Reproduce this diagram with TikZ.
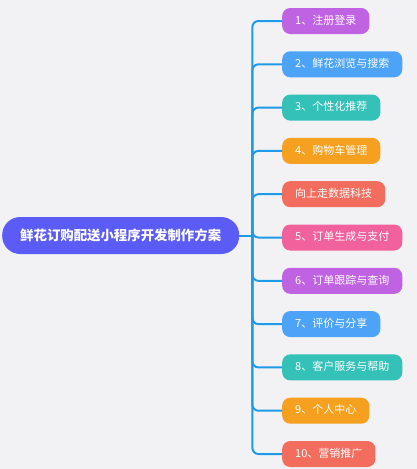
\documentclass[tikz,border=0pt]{standalone}
\usepackage{fontspec}
\usetikzlibrary{positioning}
\newfontfamily\cjk{Noto Sans CJK SC}

\definecolor{bgc}{HTML}{F2F2F5}
\definecolor{rootc}{HTML}{5B5BF6}
\definecolor{linec}{HTML}{1E9BE8}
\definecolor{purplec}{HTML}{BF63E3}
\definecolor{bluec}{HTML}{4DA3F7}
\definecolor{tealc}{HTML}{33C1B8}
\definecolor{orangec}{HTML}{F5A01E}
\definecolor{redc}{HTML}{F26D5D}
\definecolor{pinkc}{HTML}{F1619B}

\tikzset{
  rootbox/.style={rounded corners=18pt, fill=rootc, text=white,
    minimum width=237pt, minimum height=37pt, inner sep=0pt,
    font=\cjk\bfseries\fontsize{13.4pt}{14pt}\selectfont},
  leaf/.style={rounded corners=8pt, text=white, minimum height=26pt,
    inner xsep=13pt, inner ysep=0pt, text height=8.5pt, text depth=2pt,
    font=\cjk\fontsize{11pt}{12pt}\selectfont},
  branch/.style={draw=linec, line width=2pt, rounded corners=6pt}
}

\begin{document}
\begin{tikzpicture}
  \useasboundingbox[fill=bgc] (0pt,0pt) rectangle (417pt,-469pt);

  \node[rootbox, anchor=west] (root) at (2pt,-235.5pt) {鲜花订购配送小程序开发制作方案};

  % branches
  \node[leaf, fill=purplec, anchor=west] (login) at (282pt,-21pt) {1、注册登录};
  \node[leaf, fill=bluec, below=16.9pt of login.south west, anchor=north west] (browse) {2、鲜花浏览与搜索};
  \node[leaf, fill=tealc, below=16.9pt of browse.south west, anchor=north west] (recom) {3、个性化推荐};
  \node[leaf, fill=orangec, below=16.9pt of recom.south west, anchor=north west] (cart) {4、购物车管理};
  \node[leaf, fill=redc, below=16.9pt of cart.south west, anchor=north west] (brand) {向上走数据科技};
  \node[leaf, fill=pinkc, below=16.9pt of brand.south west, anchor=north west] (order) {5、订单生成与支付};
  \node[leaf, fill=purplec, below=16.9pt of order.south west, anchor=north west] (track) {6、订单跟踪与查询};
  \node[leaf, fill=bluec, below=16.9pt of track.south west, anchor=north west] (review) {7、评价与分享};
  \node[leaf, fill=tealc, below=16.9pt of review.south west, anchor=north west] (service) {8、客户服务与帮助};
  \node[leaf, fill=orangec, below=16.9pt of service.south west, anchor=north west] (center) {9、个人中心};
  \node[leaf, fill=redc, below=16.9pt of center.south west, anchor=north west] (promo) {10、营销推广};

  % connectors
  \coordinate[right=13pt of root.east] (trunk);
  \draw[branch] (root.east) -- (trunk);
  \foreach \n in {login,browse,recom,cart,brand,order,track,review,service,center,promo}
    \draw[branch] (trunk) |- (\n.west);
\end{tikzpicture}
\end{document}
